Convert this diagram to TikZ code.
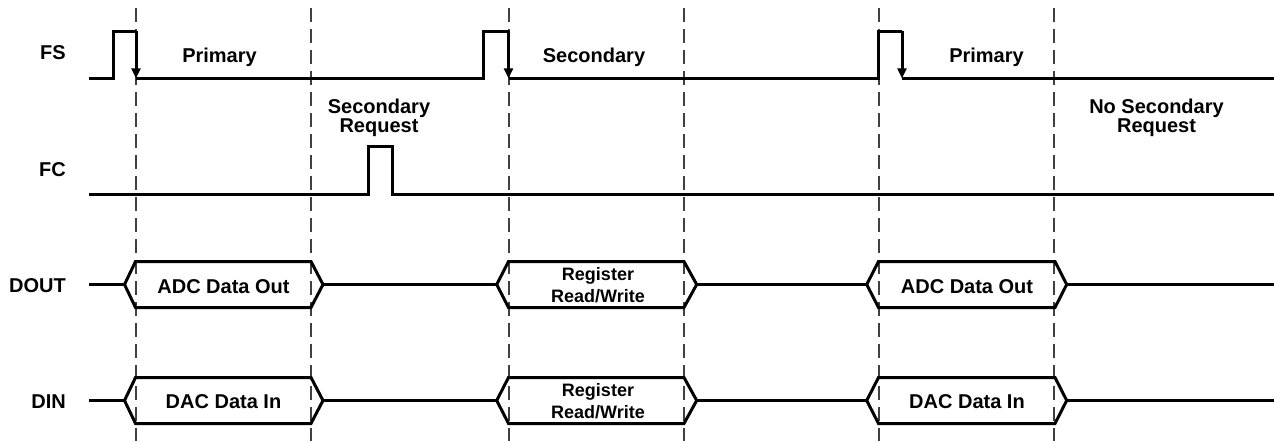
\documentclass[tikz,border=0pt]{standalone}
\usepackage{fontspec}
\setmainfont{Liberation Sans}
\usetikzlibrary{arrows.meta}
\tikzset{
  sig/.style={line width=3pt, line join=miter, line cap=butt},
  guide/.style={line width=1.3pt, draw=black!75, dash pattern=on 14pt off 7pt},
  lbl/.style={font=\bfseries\fontsize{20}{19}\selectfont, inner sep=0pt, anchor=base},
  rlbl/.style={font=\bfseries\fontsize{20}{19}\selectfont, inner sep=0pt, anchor=base east},
  reglbl/.style={font=\bfseries\fontsize{18}{22}\selectfont, inner sep=0pt, anchor=base, align=center},
  edge/.style={sig, -{Triangle[width=9pt,length=10pt]}}
}
\begin{document}
\begin{tikzpicture}[x=1pt,y=-1pt]
\useasboundingbox (0,0) rectangle (1274,441);
% guide lines
\foreach \gx in {136,311,509,684,879,1054}
  \draw[guide] (\gx,8) -- (\gx,441);
% signal names
\node[rlbl] (fs) at (66,60) {FS};
\node[rlbl] (fc) at (66,176) {FC};
\node[rlbl] (dout) at (66,292) {DOUT};
\node[rlbl] (din) at (66,408) {DIN};
% FS waveform
\draw[sig] (89,78.3) -- (113,78.3) -- (113,31.5) -- (136,31.5);
\draw[edge] (136,31.5) -- (136,78.3);
\draw[sig] (136,78.3) -- (483.5,78.3) -- (483.5,31.5) -- (508.5,31.5);
\draw[edge] (508.5,31.5) -- (508.5,78.3);
\draw[sig] (508.5,78.3) -- (878.5,78.3) -- (878.5,31.5) -- (902,31.5);
\draw[edge] (902,31.5) -- (902,78.3);
\draw[sig] (902,78.3) -- (1274,78.3);
% FC waveform
\draw[sig] (89,194) -- (368,194) -- (368,147) -- (392,147) -- (392,194) -- (1274,194);
% DOUT
\draw[sig] (89,284.5) -- (124.5,284.5);
\draw[sig] (124.5,284.5) -- (135.5,261.5) -- (311,261.5) -- (323,284.5) -- (311,307.5) -- (135.5,307.5) -- cycle;
\draw[sig] (323,284.5) -- (496.7,284.5);
\draw[sig] (496.7,284.5) -- (508.5,261.5) -- (684,261.5) -- (696.7,284.5) -- (684,307.5) -- (508.5,307.5) -- cycle;
\draw[sig] (696.7,284.5) -- (866.7,284.5);
\draw[sig] (866.7,284.5) -- (878.5,261.5) -- (1055,261.5) -- (1066.7,284.5) -- (1055,307.5) -- (878.5,307.5) -- cycle;
\draw[sig] (1066.7,284.5) -- (1274,284.5);
% DIN
\draw[sig] (89,400.5) -- (124.5,400.5);
\draw[sig] (124.5,400.5) -- (135.5,377.5) -- (311,377.5) -- (323,400.5) -- (311,423.5) -- (135.5,423.5) -- cycle;
\draw[sig] (323,400.5) -- (496.7,400.5);
\draw[sig] (496.7,400.5) -- (508.5,377.5) -- (684,377.5) -- (696.7,400.5) -- (684,423.5) -- (508.5,423.5) -- cycle;
\draw[sig] (696.7,400.5) -- (866.7,400.5);
\draw[sig] (866.7,400.5) -- (878.5,377.5) -- (1055,377.5) -- (1066.7,400.5) -- (1055,423.5) -- (878.5,423.5) -- cycle;
\draw[sig] (1066.7,400.5) -- (1274,400.5);
% annotations
\node[lbl] (p1) at (219.5,63) {Primary};
\node[lbl] (s1) at (594,63) {Secondary};
\node[lbl] (p2) at (986.5,63) {Primary};
\node[lbl, align=center] (sreq) at (379,133) {Secondary\\Request};
\node[lbl, align=center, font=\bfseries\fontsize{20}{20}\selectfont] (nreq) at (1156.5,133) {No Secondary\\Request};
% bus contents
\node[lbl] (adc1) at (223.5,293) {ADC Data Out};
\node[reglbl] (reg1) at (598,302) {Register\\Read/Write};
\node[lbl] (adc2) at (967,293) {ADC Data Out};
\node[lbl] (dac1) at (223.5,408.3) {DAC Data In};
\node[reglbl] (reg2) at (598,418) {Register\\Read/Write};
\node[lbl] (dac2) at (967,408.3) {DAC Data In};
\end{tikzpicture}
\end{document}
